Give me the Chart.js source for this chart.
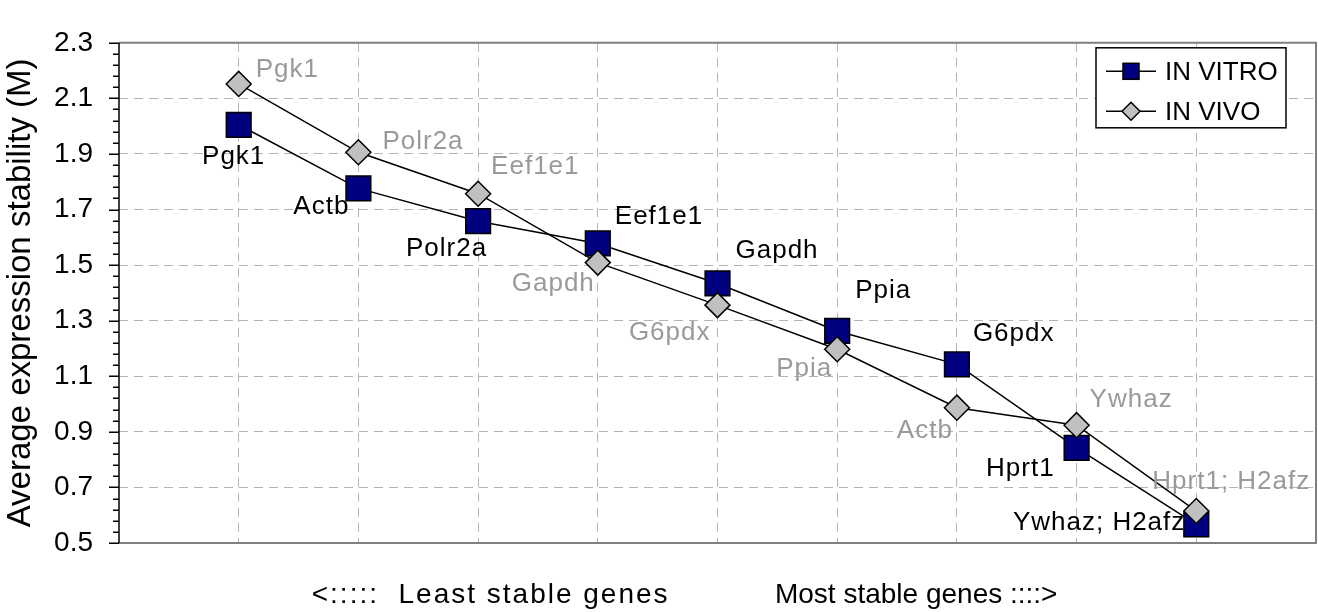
<!DOCTYPE html>
<html><head><meta charset="utf-8">
<script src="https://cdn.jsdelivr.net/npm/chart.js@4/dist/chart.umd.min.js"></script>
<style>html,body{margin:0;padding:0;background:#fff;} #wrap{width:1318px;height:612px;}</style>
</head><body><div id="wrap"><canvas id="c" width="1318" height="612"></canvas></div>
<script>
const rank = [1, 2, 3, 4, 5, 6, 7, 8, 9];
const vitroGenes = ['Pgk1', 'Actb', 'Polr2a', 'Eef1e1', 'Gapdh', 'Ppia', 'G6pdx', 'Hprt1', 'Ywhaz; H2afz'];
const vitroM = [2.005, 1.776, 1.658, 1.578, 1.434, 1.263, 1.143, 0.842, 0.567];
const vivoGenes = ['Pgk1', 'Polr2a', 'Eef1e1', 'Gapdh', 'G6pdx', 'Ppia', 'Actb', 'Ywhaz', 'Hprt1; H2afz'];
const vivoM = [2.152, 1.906, 1.757, 1.509, 1.356, 1.197, 0.987, 0.924, 0.615];
const yTickLabels = ['0.5', '0.7', '0.9', '1.1', '1.3', '1.5', '1.7', '1.9', '2.1', '2.3'];
const seriesNames = ['IN VITRO', 'IN VIVO'];
const yTitle = 'Average expression stability (M)';
const leftNote = '<:::::  Least stable genes';
const rightNote = 'Most stable genes ::::>';

const FONT = '"Liberation Sans", Arial, Helvetica, sans-serif';
const Y_MIN = 0.5, Y_MAX = 2.3, MINOR = 0.04, PER_MAJOR = 5;

// label placement relative to each point: [dx, dy, align]
const vitroPlace = [[-5,39,'center'],[-9,26,'right'],[9,35,'right'],[17,-19,'left'],[18,-25,'left'],[18,-33,'left'],[16,-23,'left'],[-22,28,'right'],[-11,6,'right']];
const vivoPlace = [[17,-7,'left'],[24,-3,'left'],[13,-20,'left'],[-3,28,'right'],[-7,35,'right'],[-5,27,'right'],[-4,30,'right'],[13,-18,'left'],[-44,-22,'left']];

const pointLabels = {
  id: 'pointLabels',
  afterDatasetsDraw(chart) {
    const ctx = chart.ctx;
    const sets = [
      {idx: 0, names: vitroGenes, place: vitroPlace, color: '#000000'},
      {idx: 1, names: vivoGenes, place: vivoPlace, color: '#9a9a9a'}
    ];
    ctx.save();
    ctx.font = '26px ' + FONT;
    ctx.letterSpacing = '1px';
    ctx.textBaseline = 'alphabetic';
    sets.forEach(s => {
      const meta = chart.getDatasetMeta(s.idx);
      ctx.fillStyle = s.color;
      meta.data.forEach((el, i) => {
        const p = s.place[i];
        ctx.textAlign = p[2];
        ctx.fillText(s.names[i], el.x + p[0], el.y + p[1]);
      });
    });
    ctx.letterSpacing = '0px';
    ctx.restore();
  }
};

const frame = {
  id: 'frame',
  beforeDatasetsDraw(chart) {
    const {ctx, chartArea: a} = chart;
    const y = chart.scales.y;
    ctx.save();
    ctx.strokeStyle = '#808080';
    ctx.lineWidth = 2;
    ctx.beginPath();
    ctx.moveTo(a.left, a.top); ctx.lineTo(a.right, a.top);
    ctx.lineTo(a.right, a.bottom); ctx.lineTo(a.left, a.bottom);
    ctx.stroke();
    ctx.strokeStyle = '#000000';
    ctx.lineWidth = 1.5;
    ctx.beginPath();
    ctx.moveTo(a.left, a.top); ctx.lineTo(a.left, a.bottom);
    y.ticks.forEach((t, i) => {
      const py = Math.round(y.getPixelForValue(t.value)) + 0.25;
      const len = (i % PER_MAJOR === 0) ? 10 : 6;
      ctx.moveTo(a.left - len, py); ctx.lineTo(a.left, py);
    });
    ctx.stroke();
    ctx.restore();
  },
  afterDraw(chart) {
    const {ctx, chartArea: a} = chart;
    const x = chart.scales.x;
    ctx.save();
    // bottom notes
    ctx.fillStyle = '#000';
    ctx.font = '28px ' + FONT;
    ctx.textBaseline = 'alphabetic';
    ctx.textAlign = 'left';
    ctx.letterSpacing = '2px';
    ctx.fillText(leftNote, x.getPixelForValue(1.61), a.bottom + 60);
    ctx.letterSpacing = '0px';
    ctx.textAlign = 'right';
    ctx.fillText(rightNote, x.getPixelForValue(7.84), a.bottom + 60);
    // legend
    const lx = a.right - 220, ly = a.top + 5, lw = 190, lh = 80;
    ctx.fillStyle = '#fff';
    ctx.fillRect(lx, ly, lw, lh);
    ctx.strokeStyle = '#000';
    ctx.lineWidth = 1.5;
    ctx.strokeRect(lx, ly, lw, lh);
    const rows = [ly + 23.5, ly + 63.5];
    ctx.lineWidth = 1.5;
    rows.forEach(ry => {
      ctx.beginPath();
      ctx.moveTo(lx + 10, ry); ctx.lineTo(lx + 60, ry);
      ctx.stroke();
    });
    // square
    ctx.fillStyle = '#000080';
    ctx.fillRect(lx + 27, rows[0] - 8, 16, 16);
    ctx.strokeRect(lx + 27, rows[0] - 8, 16, 16);
    // diamond
    ctx.fillStyle = '#c0c0c0';
    ctx.beginPath();
    const cx = lx + 35, cy = rows[1];
    ctx.moveTo(cx - 9, cy); ctx.lineTo(cx, cy - 9); ctx.lineTo(cx + 9, cy); ctx.lineTo(cx, cy + 9); ctx.closePath();
    ctx.fill(); ctx.stroke();
    ctx.fillStyle = '#000';
    ctx.font = '26px ' + FONT;
    ctx.textAlign = 'left';
    ctx.fillText(seriesNames[0], lx + 69, ly + 32);
    ctx.fillText(seriesNames[1], lx + 69, ly + 72);
    ctx.restore();
  }
};

new Chart(document.getElementById('c'), {
  type: 'line',
  data: {
    datasets: [
      {
        label: seriesNames[0],
        data: rank.map((r, i) => ({x: r, y: vitroM[i]})),
        borderColor: '#000', borderWidth: 1.5,
        pointStyle: 'rect', pointRadius: 17.5,
        pointBackgroundColor: '#000080', pointBorderColor: '#000', pointBorderWidth: 1.5,
        tension: 0, order: 2
      },
      {
        label: seriesNames[1],
        data: rank.map((r, i) => ({x: r, y: vivoM[i]})),
        borderColor: '#000', borderWidth: 1.5,
        pointStyle: 'rectRot', pointRadius: 12.5,
        pointBackgroundColor: '#c0c0c0', pointBorderColor: '#000', pointBorderWidth: 1.5,
        tension: 0, order: 1
      }
    ]
  },
  options: {
    responsive: false, animation: false, devicePixelRatio: 1,
    layout: {autoPadding: false, padding: {left: 0, top: 18, right: 2, bottom: 0}},
    plugins: {legend: {display: false}, tooltip: {enabled: false}},
    scales: {
      x: {
        type: 'linear', min: 0, max: 10,
        afterBuildTicks: s => { s.ticks = rank.map(v => ({value: v})); },
        afterFit: s => { s.height = 69; },
        ticks: {display: false},
        grid: {color: '#b4b4b4', lineWidth: 1, drawTicks: false},
        border: {display: false, dash: [9, 6]}
      },
      y: {
        type: 'linear', min: Y_MIN, max: Y_MAX,
        afterBuildTicks: s => {
          const n = Math.round((Y_MAX - Y_MIN) / MINOR);
          const t = [];
          for (let i = 0; i <= n; i++) t.push({value: Y_MIN + i * MINOR});
          s.ticks = t;
        },
        afterFit: s => { s.width = 119; },
        ticks: {
          autoSkip: false, padding: 26, color: '#000',
          font: {family: FONT, size: 28},
          callback: (v, i) => (i % PER_MAJOR === 0 ? yTickLabels[i / PER_MAJOR] : '')
        },
        grid: {
          drawTicks: false, lineWidth: 1,
          color: c => (c.index % PER_MAJOR === 0 && c.index > 0 && c.index < 45) ? '#b4b4b4' : 'rgba(0,0,0,0)'
        },
        border: {display: false, dash: [9, 6]},
        title: {display: true, text: yTitle, color: '#000', font: {family: FONT, size: 33}, padding: {top: 1, bottom: 0}}
      }
    }
  },
  plugins: [frame, pointLabels]
});
</script>
</body></html>
